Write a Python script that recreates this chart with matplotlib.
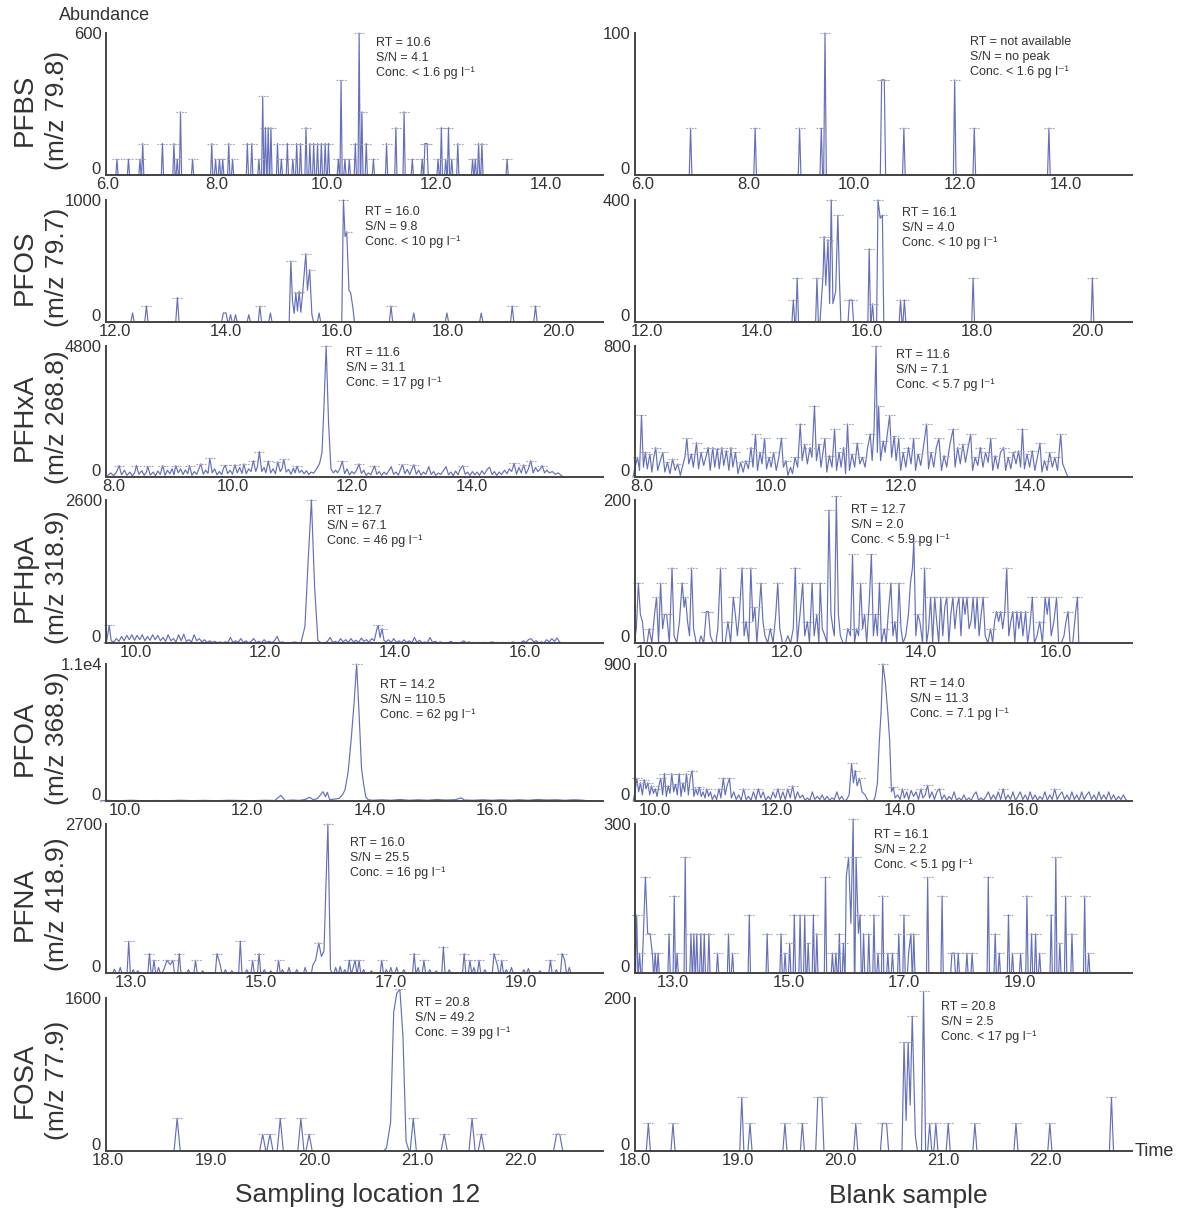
import matplotlib
matplotlib.use("Agg")
import matplotlib.pyplot as plt
import matplotlib.transforms as mtransforms

plt.rcParams['font.family'] = ['Liberation Sans', 'DejaVu Sans']

# ---- peak lists (retention time, abundance) ----
pfbs_s = [(6.17,67),(6.38,67),(6.59,67),(6.64,133),(7.00,133),(7.21,133),(7.27,67),(7.33,267),(7.55,67),
          (7.90,133),(7.97,67),(8.04,67),(8.10,67),(8.21,133),(8.28,67),(8.55,133),(8.63,133),(8.76,67),
          (8.83,333),(8.88,200),(8.93,200),(8.98,200),(9.10,133),(9.17,67),(9.28,133),(9.38,67),(9.45,133),
          (9.52,133),(9.62,200),(9.69,133),(9.76,133),(9.83,133),(9.90,133),(9.97,133),(10.03,133),(10.21,67),
          (10.26,400),(10.33,67),(10.41,67),(10.52,133),(10.59,600),(10.64,267),(10.72,133),(10.85,67),
          (11.09,133),(11.26,200),(11.41,267),(11.56,67),(11.74,67),(11.79,133),(11.83,133),(12.03,67),
          (12.09,200),(12.17,67),(12.22,200),(12.28,67),(12.39,133),(12.66,67),(12.71,67),(12.77,133),
          (12.83,133),(13.29,67)]
pfbs_b = [(6.91,33),(8.13,33),(8.97,33),(9.38,33),(9.45,100),(10.52,67),(10.57,67),(10.94,33),
          (11.90,67),(12.27,33),(13.68,33)]

pfos_s = [(12.31,74),(12.56,131),(13.12,200),(13.95,74),(14.00,74),(14.08,60),(14.17,60),(14.41,60),
          (14.61,131),(14.80,74),(15.17,500),(15.20,170),(15.23,70),(15.26,240),(15.29,90),(15.32,250),
          (15.35,80),(15.38,220),(15.44,560),(15.47,260),(15.51,430),(15.55,60),(15.68,74),(16.12,1000),
          (16.15,700),(16.18,740),(16.22,260),(16.25,240),(16.29,120),(16.98,131),(17.39,74),(17.99,74),
          (18.61,74),(19.17,131),(19.59,131)]
pfos_b = [(14.66,72),(14.73,144),(15.09,144),(15.17,70),(15.20,150),(15.22,280),(15.25,120),(15.29,270),
          (15.32,60),(15.35,400),(15.38,60),(15.43,100),(15.47,350),(15.50,130),(15.68,72),(15.73,72),
          (16.04,240),(16.10,60),(16.20,400),(16.24,340),(16.28,350),(16.61,72),(16.68,72),(17.93,144),
          (20.10,144)]

pfhxa_s = [(7.90,60),(7.95,150),(8.00,40),(8.05,200),(8.09,420),(8.13,80),(8.18,250),(8.22,60),(8.27,180),
           (8.31,40),(8.35,150),(8.38,420),(8.42,100),(8.47,230),(8.51,60),(8.55,200),(8.57,400),(8.61,70),
           (8.66,180),(8.70,50),(8.74,220),(8.78,90),(8.82,420),(8.86,60),(8.90,250),(8.94,120),(8.98,300),
           (9.01,80),(9.04,420),(9.08,150),(9.12,300),(9.16,90),(9.20,260),(9.24,120),(9.27,420),(9.31,60),
           (9.35,200),(9.39,100),(9.43,320),(9.46,480),(9.50,100),(9.54,250),(9.58,130),(9.61,690),(9.65,150),
           (9.69,300),(9.73,80),(9.77,200),(9.81,90),(9.84,330),(9.87,430),(9.91,120),(9.95,250),(9.99,100),
           (10.03,450),(10.07,150),(10.11,350),(10.15,130),(10.18,480),(10.22,120),(10.26,300),(10.30,200),
           (10.34,600),(10.38,200),(10.41,400),(10.44,930),(10.48,200),(10.52,350),(10.55,150),(10.59,580),
           (10.63,150),(10.67,300),(10.71,120),(10.75,560),(10.79,200),(10.82,300),(10.85,650),(10.89,180),
           (10.93,280),(10.97,100),(11.01,320),(11.04,150),(11.07,400),(11.11,160),(11.15,250),(11.19,120),
           (11.23,230),(11.27,90),(11.31,180),(11.35,140),(11.40,300),(11.45,500),(11.49,900),(11.52,2400),
           (11.56,4800),(11.60,2000),(11.64,300),(11.68,150),(11.72,250),(11.75,150),(11.79,300),(11.83,580),
           (11.87,120),(11.91,300),(11.95,80),(11.99,200),(12.03,120),(12.07,250),(12.11,480),(12.15,130),
           (12.19,250),(12.23,60),(12.27,150),(12.31,80),(12.34,250),(12.37,400),(12.41,100),(12.45,200),
           (12.49,60),(12.53,180),(12.57,90),(12.61,230),(12.65,380),(12.69,100),(12.73,180),(12.77,70),
           (12.81,300),(12.84,460),(12.88,120),(12.92,280),(12.96,90),(13.00,300),(13.03,450),(13.07,100),
           (13.11,250),(13.15,70),(13.19,180),(13.23,100),(13.28,380),(13.32,90),(13.36,200),(13.40,60),
           (13.44,150),(13.48,90),(13.53,250),(13.57,380),(13.61,80),(13.65,180),(13.69,50),(13.73,220),
           (13.77,80),(13.81,300),(13.85,420),(13.89,100),(13.93,180),(13.97,60),(14.01,200),(14.05,80),
           (14.09,180),(14.13,60),(14.17,230),(14.21,100),(14.26,280),(14.30,360),(14.34,90),(14.38,200),
           (14.42,60),(14.46,180),(14.50,90),(14.55,250),(14.59,120),(14.63,300),(14.67,200),(14.71,500),
           (14.75,100),(14.79,350),(14.83,150),(14.87,450),(14.91,120),(14.95,300),(14.99,600),(15.03,150),
           (15.07,350),(15.11,200),(15.15,300),(15.18,420),(15.22,150),(15.26,250),(15.30,150),(15.35,200),
           (15.40,100),(15.45,150),(15.50,60)]
pfhxa_b = [(7.90,60),(7.94,120),(7.97,40),(8.00,376),(8.03,60),(8.06,150),(8.09,50),(8.13,140),(8.16,30),
           (8.19,120),(8.22,180),(8.25,40),(8.29,100),(8.33,150),(8.36,30),(8.40,90),(8.44,20),(8.48,110),
           (8.52,40),(8.56,80),(8.60,10),(8.63,60),(8.67,120),(8.70,236),(8.73,80),(8.77,140),(8.80,60),
           (8.85,210),(8.88,50),(8.92,150),(8.96,70),(9.00,130),(9.03,180),(9.06,40),(9.10,180),(9.13,60),
           (9.17,170),(9.20,50),(9.24,180),(9.27,70),(9.31,160),(9.35,40),(9.38,180),(9.41,60),(9.45,150),
           (9.49,20),(9.53,90),(9.57,30),(9.61,100),(9.65,50),(9.69,180),(9.72,60),(9.76,262),(9.79,40),
           (9.83,150),(9.86,80),(9.90,236),(9.93,50),(9.97,120),(10.00,60),(10.04,150),(10.08,40),(10.12,120),
           (10.16,236),(10.19,60),(10.23,100),(10.26,10),(10.30,60),(10.33,20),(10.37,120),(10.41,60),
           (10.45,324),(10.48,100),(10.52,200),(10.56,80),(10.60,180),(10.63,120),(10.67,434),(10.70,100),
           (10.74,200),(10.77,60),(10.80,150),(10.83,236),(10.86,30),(10.90,130),(10.94,60),(10.98,293),
           (11.01,40),(11.05,150),(11.08,60),(11.12,180),(11.15,20),(11.18,324),(11.21,40),(11.25,140),
           (11.29,60),(11.33,207),(11.37,80),(11.41,120),(11.45,60),(11.49,180),(11.53,262),(11.56,100),
           (11.59,300),(11.62,800),(11.64,150),(11.66,434),(11.69,100),(11.73,220),(11.76,150),(11.79,250),
           (11.83,376),(11.86,120),(11.90,250),(11.93,100),(11.97,236),(12.00,40),(12.04,150),(12.08,60),
           (12.12,180),(12.16,80),(12.20,236),(12.23,40),(12.27,140),(12.31,70),(12.35,180),(12.40,324),
           (12.43,50),(12.47,150),(12.51,60),(12.55,180),(12.59,236),(12.63,40),(12.67,130),(12.71,60),
           (12.76,200),(12.81,293),(12.84,60),(12.88,180),(12.92,80),(12.96,200),(13.00,90),(13.04,180),
           (13.08,262),(13.11,40),(13.15,120),(13.19,70),(13.23,180),(13.27,60),(13.31,150),(13.35,90),
           (13.39,236),(13.42,40),(13.46,130),(13.50,50),(13.54,150),(13.59,180),(13.62,40),(13.66,120),
           (13.70,50),(13.74,150),(13.78,80),(13.82,160),(13.85,60),(13.88,293),(13.91,50),(13.95,140),
           (13.99,60),(14.03,160),(14.07,40),(14.11,120),(14.15,207),(14.18,30),(14.22,100),(14.26,40),
           (14.30,150),(14.34,60),(14.38,120),(14.42,40),(14.47,262),(14.50,80),(14.55,30)]

pfhpa_s = [(9.55,30),(9.59,320),(9.62,40),(9.66,20),(9.70,80),(9.74,30),(9.78,120),(9.82,40),(9.86,140),
           (9.90,60),(9.94,150),(9.98,50),(10.02,140),(10.06,60),(10.10,150),(10.14,40),(10.18,120),
           (10.22,50),(10.26,150),(10.30,60),(10.34,140),(10.38,40),(10.42,100),(10.46,30),(10.50,150),
           (10.54,40),(10.58,80),(10.62,20),(10.66,150),(10.70,40),(10.74,160),(10.78,30),(10.82,60),
           (10.86,20),(10.90,150),(10.94,40),(10.98,80),(11.02,20),(11.06,60),(11.10,10),(11.14,40),
           (11.18,10),(11.22,30),(11.26,5),(11.30,20),(11.34,5),(11.38,20),(11.42,10),(11.46,100),(11.50,10),
           (11.54,40),(11.58,10),(11.62,80),(11.66,10),(11.70,40),(11.74,5),(11.78,30),(11.82,80),(11.86,10),
           (11.90,30),(11.94,5),(11.98,60),(12.02,10),(12.06,30),(12.10,10),(12.14,40),(12.18,120),(12.22,10),
           (12.26,20),(12.30,5),(12.35,10),(12.40,5),(12.45,20),(12.50,5),(12.55,10),(12.61,300),(12.66,1500),
           (12.71,2600),(12.76,1000),(12.81,50),(12.85,10),(12.90,5),(12.95,20),(13.00,100),(13.04,10),
           (13.08,30),(13.12,5),(13.16,80),(13.20,20),(13.24,60),(13.28,10),(13.32,80),(13.36,20),(13.40,50),
           (13.44,10),(13.48,90),(13.52,30),(13.56,60),(13.60,10),(13.64,80),(13.68,40),(13.72,250),
           (13.74,320),(13.77,100),(13.80,260),(13.83,50),(13.86,20),(13.90,60),(13.94,10),(13.98,80),
           (14.02,10),(14.06,40),(14.10,5),(14.14,60),(14.18,10),(14.22,40),(14.26,5),(14.30,100),(14.34,10),
           (14.38,50),(14.42,5),(14.46,20),(14.50,5),(14.54,100),(14.58,10),(14.62,30),(14.66,5),(14.70,20),
           (14.74,5),(14.78,10),(14.82,5),(14.86,30),(14.90,5),(14.94,10),(14.98,5),(15.02,10),(15.06,40),
           (15.10,5),(15.14,20),(15.18,5),(15.22,10),(15.26,5),(15.30,10),(15.34,5),(15.38,10),(15.42,5),
           (15.46,10),(15.50,20),(15.54,5),(15.58,10),(15.62,5),(15.66,10),(15.70,5),(15.74,10),(15.78,5),
           (15.82,20),(15.86,5),(15.90,10),(15.94,5),(15.98,40),(16.02,10),(16.06,60),(16.10,80),(16.14,20),
           (16.18,40),(16.22,5),(16.26,20),(16.30,5),(16.34,60),(16.38,20),(16.42,80),(16.46,30),(16.50,90),
           (16.54,20)]
pfhpa_b = [(9.77,20),(9.80,84),(9.83,40),(9.86,30),(9.89,0),(9.93,0),(9.96,20),(10.00,0),(10.04,40),
           (10.07,64),(10.10,0),(10.13,84),(10.16,20),(10.19,40),(10.22,40),(10.26,0),(10.30,105),(10.33,10),
           (10.37,0),(10.41,30),(10.45,84),(10.48,50),(10.50,64),(10.53,30),(10.56,10),(10.59,105),(10.62,20),
           (10.66,0),(10.70,0),(10.73,10),(10.77,0),(10.81,44),(10.84,44),(10.87,10),(10.91,0),(10.95,0),
           (10.98,20),(11.02,105),(11.05,0),(11.09,0),(11.13,30),(11.17,0),(11.21,64),(11.24,40),(11.27,10),
           (11.30,40),(11.34,105),(11.37,10),(11.40,30),(11.44,0),(11.47,105),(11.50,30),(11.53,50),(11.56,0),
           (11.59,40),(11.62,84),(11.65,30),(11.68,10),(11.72,0),(11.76,20),(11.80,0),(11.84,40),(11.87,84),
           (11.90,20),(11.94,0),(11.98,0),(12.02,10),(12.06,0),(12.10,20),(12.13,105),(12.16,0),(12.20,40),
           (12.24,84),(12.27,10),(12.31,30),(12.34,0),(12.38,84),(12.41,10),(12.45,40),(12.48,0),(12.50,84),
           (12.53,20),(12.57,10),(12.60,0),(12.63,186),(12.66,40),(12.69,20),(12.71,10),(12.74,205),(12.77,40),
           (12.80,10),(12.84,0),(12.88,0),(12.91,20),(12.95,10),(12.98,124),(13.01,0),(13.04,20),(13.07,10),
           (13.10,84),(13.13,20),(13.16,40),(13.19,0),(13.23,60),(13.26,124),(13.29,10),(13.32,40),(13.35,10),
           (13.38,84),(13.41,0),(13.45,20),(13.48,0),(13.51,40),(13.55,84),(13.58,10),(13.61,30),(13.64,0),
           (13.67,84),(13.70,20),(13.73,0),(13.77,10),(13.81,40),(13.84,84),(13.87,105),(13.89,143),(13.92,10),
           (13.95,40),(13.98,30),(14.02,0),(14.05,105),(14.08,0),(14.11,20),(14.14,64),(14.17,0),(14.20,64),
           (14.23,30),(14.26,0),(14.29,64),(14.32,10),(14.35,50),(14.38,64),(14.41,0),(14.44,40),(14.47,64),
           (14.50,20),(14.53,50),(14.56,64),(14.59,10),(14.62,64),(14.65,40),(14.68,64),(14.71,20),(14.74,30),
           (14.77,64),(14.80,20),(14.83,64),(14.86,10),(14.89,40),(14.92,64),(14.95,10),(14.99,0),(15.03,20),
           (15.06,0),(15.09,30),(15.12,44),(15.15,30),(15.18,44),(15.21,20),(15.24,44),(15.27,105),(15.30,10),
           (15.33,30),(15.36,44),(15.39,0),(15.42,44),(15.45,20),(15.48,44),(15.51,10),(15.55,44),(15.58,0),
           (15.61,20),(15.65,64),(15.68,0),(15.72,10),(15.76,30),(15.80,0),(15.84,64),(15.87,40),(15.90,64),
           (15.93,10),(15.97,30),(16.01,64),(16.04,0),(16.08,0),(16.12,10),(16.15,30),(16.18,44),(16.21,0),
           (16.25,0),(16.29,40),(16.32,64),(16.34,0)]

pfoa_s = [(9.70,50),(9.90,20),(10.10,60),(10.30,20),(10.50,40),(10.70,20),(10.90,60),(11.10,30),(11.30,50),
          (11.50,20),(11.70,60),(11.90,40),(12.10,30),(12.30,60),(12.45,40),(12.55,450),(12.62,40),(12.75,80),
          (12.85,50),(12.95,120),(13.02,300),(13.08,100),(13.15,200),(13.20,500),(13.24,750),(13.28,350),
          (13.31,700),(13.35,100),(13.42,150),(13.50,200),(13.56,500),(13.60,900),(13.65,2300),(13.70,4900),
          (13.75,8000),(13.79,11000),(13.83,7000),(13.87,2600),(13.90,1500),(13.94,300),(13.98,100),
          (14.05,60),(14.20,100),(14.35,60),(14.50,120),(14.65,60),(14.80,100),(14.95,60),(15.10,120),
          (15.25,80),(15.40,100),(15.50,250),(15.55,80),(15.70,60),(15.85,100),(16.00,60),(16.15,100),
          (16.30,60),(16.45,100),(16.60,60),(16.75,120),(16.90,80),(17.05,100),(17.20,60),(17.35,100),
          (17.50,60)]
pfoa_b = [(9.68,60),(9.71,150),(9.74,60),(9.77,120),(9.80,40),(9.83,140),(9.86,80),(9.89,120),(9.92,40),
          (9.95,100),(9.98,50),(10.01,80),(10.04,30),(10.07,100),(10.10,150),(10.13,40),(10.16,180),(10.19,30),
          (10.22,100),(10.25,50),(10.28,180),(10.31,60),(10.34,110),(10.37,40),(10.40,180),(10.43,30),
          (10.46,120),(10.49,60),(10.52,180),(10.55,40),(10.58,150),(10.61,200),(10.64,30),(10.67,80),
          (10.70,40),(10.73,90),(10.76,30),(10.79,60),(10.82,20),(10.85,80),(10.88,30),(10.91,60),(10.94,10),
          (10.98,40),(11.01,10),(11.05,80),(11.08,20),(11.12,150),(11.15,40),(11.18,100),(11.22,148),
          (11.25,20),(11.29,60),(11.33,10),(11.37,40),(11.41,5),(11.45,80),(11.49,10),(11.53,30),(11.57,5),
          (11.61,60),(11.65,10),(11.69,80),(11.73,20),(11.77,60),(11.81,5),(11.85,30),(11.89,10),(11.93,60),
          (11.97,20),(12.01,80),(12.05,10),(12.09,60),(12.13,10),(12.17,80),(12.21,20),(12.25,100),(12.29,10),
          (12.33,60),(12.37,20),(12.41,40),(12.45,5),(12.49,20),(12.53,5),(12.57,60),(12.61,10),(12.65,30),
          (12.69,10),(12.73,40),(12.77,5),(12.81,30),(12.85,5),(12.89,20),(12.93,10),(12.97,60),(13.01,10),
          (13.05,30),(13.09,0),(13.13,10),(13.17,40),(13.21,248),(13.24,120),(13.27,200),(13.30,100),
          (13.34,150),(13.38,60),(13.43,40),(13.48,0),(13.52,0),(13.56,0),(13.59,20),(13.63,115),(13.66,380),
          (13.69,580),(13.72,900),(13.76,780),(13.80,580),(13.83,400),(13.86,60),(13.89,90),(13.92,20),
          (13.96,40),(14.00,10),(14.04,80),(14.07,20),(14.11,60),(14.14,10),(14.18,70),(14.22,30),(14.26,60),
          (14.30,10),(14.34,80),(14.37,20),(14.41,40),(14.45,104),(14.48,20),(14.52,60),(14.56,10),(14.60,60),
          (14.64,80),(14.68,10),(14.72,40),(14.76,5),(14.80,30),(14.84,10),(14.88,60),(14.92,5),(14.96,20),
          (15.00,5),(15.04,40),(15.08,5),(15.12,20),(15.16,5),(15.20,40),(15.24,60),(15.28,5),(15.32,20),
          (15.36,5),(15.40,30),(15.44,60),(15.48,10),(15.52,40),(15.56,10),(15.60,60),(15.64,10),(15.68,80),
          (15.72,10),(15.76,40),(15.80,10),(15.84,60),(15.88,5),(15.92,30),(15.96,60),(16.00,10),(16.04,40),
          (16.08,5),(16.12,60),(16.16,10),(16.20,40),(16.24,5),(16.28,30),(16.32,10),(16.36,60),(16.40,5),
          (16.44,40),(16.48,10),(16.52,80),(16.56,10),(16.60,40),(16.64,60),(16.68,10),(16.72,40),(16.76,5),
          (16.80,60),(16.84,10),(16.88,40),(16.92,5),(16.96,60),(17.00,10),(17.04,40),(17.08,60),(17.12,10),
          (17.16,40),(17.20,5),(17.24,60),(17.28,10),(17.32,40),(17.36,10),(17.40,60),(17.44,10),(17.48,40),
          (17.52,5),(17.56,30),(17.60,10),(17.64,40),(17.68,10)]

pfna_s = [(12.74,70),(12.83,100),(12.96,577),(13.03,60),(13.10,40),(13.28,352),(13.35,231),(13.42,100),
          (13.50,60),(13.55,231),(13.60,150),(13.64,231),(13.74,352),(13.88,60),(13.99,231),(14.10,40),
          (14.32,352),(14.37,150),(14.45,60),(14.55,40),(14.68,577),(14.78,60),(14.87,231),(14.97,352),
          (15.05,60),(15.15,40),(15.27,231),(15.33,60),(15.43,100),(15.55,60),(15.68,100),(15.80,150),
          (15.84,231),(15.89,546),(15.93,300),(15.97,400),(16.00,1600),(16.03,2700),(16.07,60),(16.15,100),
          (16.22,120),(16.29,60),(16.36,231),(16.42,100),(16.45,231),(16.51,231),(16.58,60),(16.70,40),
          (16.86,231),(16.93,60),(17.00,100),(17.09,100),(17.20,60),(17.36,352),(17.42,100),(17.51,231),
          (17.60,60),(17.70,40),(17.81,473),(17.90,60),(18.13,352),(18.22,231),(18.28,100),(18.36,231),
          (18.45,60),(18.59,352),(18.64,150),(18.71,231),(18.78,60),(18.86,100),(19.05,60),(19.12,80),
          (19.30,40),(19.46,231),(19.55,60),(19.64,352),(19.68,231),(19.75,100)]
pfna_b = [(12.37,117),(12.42,40),(12.48,60),(12.52,193),(12.56,79),(12.60,79),(12.64,40),(12.69,40),
          (12.74,40),(12.93,79),(13.02,155),(13.07,40),(13.21,233),(13.31,79),(13.36,79),(13.41,79),
          (13.48,79),(13.54,79),(13.62,79),(13.77,40),(13.96,79),(14.03,40),(14.32,117),(14.63,79),
          (14.87,79),(14.94,40),(15.02,60),(15.10,117),(15.20,117),(15.28,117),(15.34,60),(15.43,117),
          (15.49,79),(15.64,193),(15.76,40),(15.82,40),(15.88,79),(15.95,60),(16.00,193),(16.04,233),
          (16.08,100),(16.12,310),(16.17,233),(16.21,80),(16.24,117),(16.30,79),(16.39,79),(16.48,117),
          (16.55,40),(16.63,155),(16.72,40),(16.80,40),(16.91,79),(17.00,117),(17.08,40),(17.12,79),
          (17.17,79),(17.41,193),(17.66,155),(17.83,40),(17.87,40),(17.94,40),(18.09,40),(18.18,40),
          (18.46,193),(18.58,79),(18.65,40),(18.81,117),(18.88,40),(19.02,40),(19.13,155),(19.21,79),
          (19.28,79),(19.35,40),(19.55,117),(19.63,233),(19.70,60),(19.80,155),(19.91,79),(20.13,155),
          (20.20,40)]

fosa_s = [(18.67,340),(19.50,175),(19.57,175),(19.67,340),(19.87,340),(19.95,175),(20.70,30),(20.74,300),
          (20.77,1450),(20.80,1650),(20.83,1690),(20.86,1200),(20.89,100),(20.96,340),(21.26,175),
          (21.53,340),(21.62,175),(22.35,175),(22.38,175)]
fosa_b = [(18.13,36),(18.37,36),(19.04,70),(19.12,36),(19.46,36),(19.63,36),(19.78,70),(19.82,70),
          (20.15,36),(20.41,36),(20.45,36),(20.62,142),(20.64,40),(20.66,142),(20.68,60),(20.70,176),
          (20.73,20),(20.81,209),(20.87,36),(20.93,36),(21.05,36),(21.31,36),(21.71,36),(22.04,36),(22.64,70)]

# ---- panel meta ----
compounds = ["PFBS", "PFOS", "PFHxA", "PFHpA", "PFOA", "PFNA", "FOSA"]
mz_labels = ["(m/z 79.8)", "(m/z 79.7)", "(m/z 268.8)", "(m/z 318.9)", "(m/z 368.9)", "(m/z 418.9)", "(m/z 77.9)"]
sample_traces = [pfbs_s, pfos_s, pfhxa_s, pfhpa_s, pfoa_s, pfna_s, fosa_s]
blank_traces = [pfbs_b, pfos_b, pfhxa_b, pfhpa_b, pfoa_b, pfna_b, fosa_b]
sample_ymax = [600, 1000, 4800, 2600, 11000, 2700, 1600]
blank_ymax = [100, 400, 800, 200, 900, 300, 200]
sample_ylabel = ["600", "1000", "4800", "2600", "1.1e4", "2700", "1600"]
blank_ylabel = ["100", "400", "800", "200", "900", "300", "200"]
xticks = [[6, 8, 10, 12, 14], [12, 14, 16, 18, 20], [8, 10, 12, 14], [10, 12, 14, 16],
          [10, 12, 14, 16], [13, 15, 17, 19], [18, 19, 20, 21, 22]]
sample_xlim = [(5.97, 15.04), (11.83, 20.81), (7.87, 16.2), (9.54, 17.21), (9.69, 17.82), (12.61, 20.27), (17.98, 22.8)]
blank_xlim = [(5.86, 15.25), (11.78, 20.82), (7.9, 15.57), (9.75, 17.13), (9.68, 17.78), (12.34, 20.95), (18.0, 22.84)]
sample_w = [0.02, 0.03, 0.03, 0.035, 0.1, 0.025, 0.03]
blank_w = [0.025, 0.025, 0.03, 0.03, 0.03, 0.02, 0.02]

sample_notes = [["RT = 10.6", "S/N = 4.1", "Conc. < 1.6 pg l⁻¹"],
                ["RT = 16.0", "S/N = 9.8", "Conc. < 10 pg l⁻¹"],
                ["RT = 11.6", "S/N = 31.1", "Conc. = 17 pg l⁻¹"],
                ["RT = 12.7", "S/N = 67.1", "Conc. = 46 pg l⁻¹"],
                ["RT = 14.2", "S/N = 110.5", "Conc. = 62 pg l⁻¹"],
                ["RT = 16.0", "S/N = 25.5", "Conc. = 16 pg l⁻¹"],
                ["RT = 20.8", "S/N = 49.2", "Conc. = 39 pg l⁻¹"]]
blank_notes = [["RT = not available", "S/N = no peak", "Conc. < 1.6 pg l⁻¹"],
               ["RT = 16.1", "S/N = 4.0", "Conc. < 10 pg l⁻¹"],
               ["RT = 11.6", "S/N = 7.1", "Conc. < 5.7 pg l⁻¹"],
               ["RT = 12.7", "S/N = 2.0", "Conc. < 5.9 pg l⁻¹"],
               ["RT = 14.0", "S/N = 11.3", "Conc. = 7.1 pg l⁻¹"],
               ["RT = 16.1", "S/N = 2.2", "Conc. < 5.1 pg l⁻¹"],
               ["RT = 20.8", "S/N = 2.5", "Conc. < 17 pg l⁻¹"]]

# layout in pixels (figure is 1178 x 1209)
W, H = 1178, 1209
row_top = [33, 200, 346, 500, 664, 824, 998]
row_base = [175, 322, 477, 643, 801, 973, 1151]
col_left = [106, 635]
col_width = 497
sample_note_xy = [(376, 43), (365, 212), (346, 353), (327, 511), (380, 685), (350, 843), (415, 1003)]
blank_note_xy = [(970, 42), (902, 213), (896, 355), (851, 510), (910, 684), (874, 835), (941, 1007)]

LINE = '#6470b9'
CAP = '#9da2c4'
INK = '#333333'


def trace(pts, w):
    # join samples that sit close together, drop isolated spikes back to baseline
    xs, ys = [], []
    n = len(pts)
    for i, (t, h) in enumerate(pts):
        if i == 0 or t - pts[i - 1][0] > 2 * w + 1e-9:
            xs.append(t - w); ys.append(0)
        xs.append(t); ys.append(h)
        if i == n - 1 or pts[i + 1][0] - t > 2 * w + 1e-9:
            xs.append(t + w); ys.append(0)
    return xs, ys


def caps(pts, w, thresh):
    cx, cy = [], []
    n = len(pts)
    for i, (t, h) in enumerate(pts):
        left = pts[i - 1][1] if i > 0 and t - pts[i - 1][0] <= 2 * w + 1e-9 else 0
        right = pts[i + 1][1] if i < n - 1 and pts[i + 1][0] - t <= 2 * w + 1e-9 else 0
        if h >= left and h >= right and h >= thresh:
            cx.append(t); cy.append(h)
    return cx, cy


fig = plt.figure(figsize=(W / 100, H / 100), dpi=100)
lift = mtransforms.ScaledTranslation(-1 / 72, 5 / 72, fig.dpi_scale_trans)

for r in range(7):
    for c in range(2):
        pts = sample_traces[r] if c == 0 else blank_traces[r]
        ymax = sample_ymax[r] if c == 0 else blank_ymax[r]
        ylab = sample_ylabel[r] if c == 0 else blank_ylabel[r]
        xlim = sample_xlim[r] if c == 0 else blank_xlim[r]
        w = sample_w[r] if c == 0 else blank_w[r]
        notes = sample_notes[r] if c == 0 else blank_notes[r]
        nx, ny = sample_note_xy[r] if c == 0 else blank_note_xy[r]

        ax = fig.add_axes([col_left[c] / W, 1 - row_base[r] / H, col_width / W,
                           (row_base[r] - row_top[r]) / H])
        xs, ys = trace(pts, w)
        ax.plot(xs, ys, color=LINE, lw=0.85, clip_on=False)
        cx, cy = caps(pts, w, 0.08 * ymax)
        half = 5.0 * (xlim[1] - xlim[0]) / col_width
        ax.hlines(cy, [x - half for x in cx], [x + half for x in cx], colors=CAP,
                  linestyles=(0, (1.5, 1)), lw=0.8, clip_on=False)

        ax.set_xlim(*xlim)
        ax.set_ylim(0, ymax)
        ax.set_xticks(xticks[r])
        ax.set_xticklabels(["%.1f" % v for v in xticks[r]])
        ax.set_yticks([0, ymax])
        ax.set_yticklabels(["0", ylab])
        ax.tick_params(length=0, labelsize=12, colors=INK, pad=1.5)
        ax.tick_params(axis='y', pad=3)
        zero = ax.get_yticklabels()[0]
        zero.set_transform(zero.get_transform() + lift)
        for s in ['top', 'right']:
            ax.spines[s].set_visible(False)
        for s in ['left', 'bottom']:
            ax.spines[s].set_color('#444444')
            ax.spines[s].set_linewidth(1.4)
        ax.patch.set_alpha(0)

        for k, line in enumerate(notes):
            fig.text(nx / W, 1 - (ny + 15 * k) / H, line, fontsize=9, color=INK, va='center', ha='left')

    mid = (row_top[r] + row_base[r]) / 2 + 6
    fig.text(25 / W, 1 - mid / H, compounds[r], rotation=90, fontsize=20, color=INK, ha='center', va='center')
    fig.text(57 / W, 1 - mid / H, mz_labels[r], rotation=90, fontsize=19, color=INK, ha='center', va='center')

fig.text(105 / W, 1 - 16 / H, "Abundance", fontsize=13, color=INK, ha='center', va='center')
fig.text(1135 / W, 1 - 1151 / H, "Time", fontsize=13, color=INK, ha='left', va='center')
fig.text(358 / W, 1 - 1195 / H, "Sampling location 12", fontsize=19, color=INK, ha='center', va='center')
fig.text(908 / W, 1 - 1196 / H, "Blank sample", fontsize=19, color=INK, ha='center', va='center')

fig.savefig("out.png", dpi=100)
